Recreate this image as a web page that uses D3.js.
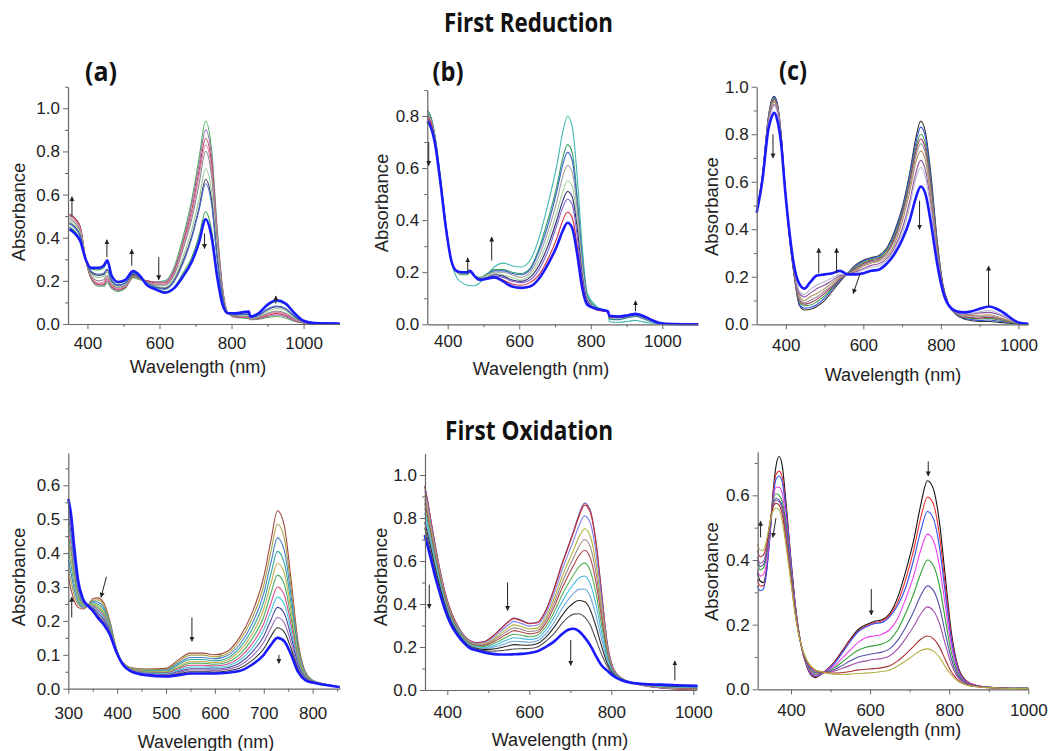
<!DOCTYPE html>
<html><head><meta charset="utf-8">
<script src="https://d3js.org/d3.v7.min.js"></script>
<style>body{margin:0;background:#fff}svg{display:block}</style>
</head><body>
<svg id="chart" width="1051" height="751"></svg>
<script>
// ---------------- DATA ----------------
// Panel (a) First Reduction
const wlA = [350,365,380,395,410,430,445,455,467,485,505,527,545,565,590,615,640,665,690,710,728,745,760,775,790,810,848,852,875,900,925,950,975,1000,1030,1100];
const a0 = [.50,.49,.45,.30,.21,.175,.175,.19,.165,.15,.165,.215,.205,.20,.195,.20,.26,.40,.58,.77,.94,.80,.45,.17,.05,.03,.025,.02,.022,.03,.035,.028,.012,.004,.001,0];
const a1 = [.505,.49,.45,.30,.215,.18,.18,.20,.17,.155,.17,.22,.21,.20,.195,.195,.25,.38,.56,.74,.90,.77,.43,.165,.05,.032,.028,.022,.025,.035,.042,.034,.015,.005,.001,0];
const a2 = [.51,.49,.45,.30,.215,.185,.185,.21,.175,.16,.17,.22,.21,.20,.19,.19,.24,.37,.53,.71,.86,.74,.41,.16,.05,.034,.03,.024,.027,.04,.048,.04,.018,.006,.002,0];
const a3 = [.50,.48,.44,.30,.22,.19,.195,.215,.18,.165,.175,.225,.21,.195,.185,.185,.23,.36,.51,.69,.83,.71,.40,.155,.05,.036,.032,.025,.03,.045,.055,.045,.02,.007,.002,0];
const a4 = [.49,.47,.43,.30,.225,.20,.205,.225,.185,.17,.18,.225,.21,.195,.18,.18,.225,.345,.49,.65,.80,.68,.38,.15,.05,.037,.035,.027,.032,.05,.06,.05,.024,.008,.002,0];
const a5 = [.48,.46,.42,.30,.235,.215,.22,.24,.195,.175,.185,.23,.215,.19,.175,.17,.21,.31,.44,.58,.72,.61,.34,.13,.05,.04,.042,.028,.036,.06,.072,.062,.03,.01,.003,.001];
const a6 = [.47,.45,.41,.30,.24,.225,.23,.25,.20,.18,.19,.23,.215,.19,.17,.165,.20,.29,.41,.54,.67,.57,.31,.125,.05,.042,.046,.03,.04,.067,.08,.07,.035,.011,.003,.001];
const a7 = [.465,.445,.405,.30,.245,.23,.235,.255,.205,.18,.19,.235,.215,.19,.17,.16,.195,.28,.40,.53,.65,.55,.30,.12,.05,.043,.047,.03,.041,.07,.083,.072,.037,.012,.003,.001];
const a8 = [.45,.43,.39,.30,.255,.25,.26,.285,.22,.19,.20,.24,.22,.185,.165,.15,.17,.235,.31,.41,.52,.43,.24,.10,.05,.048,.055,.034,.048,.085,.104,.09,.047,.014,.004,.002];
const a9 = [.44,.42,.385,.30,.26,.26,.27,.295,.225,.195,.205,.245,.225,.18,.16,.145,.165,.22,.29,.38,.485,.40,.22,.09,.05,.05,.058,.035,.05,.09,.11,.095,.05,.015,.004,.002];

// Panel (b) First Reduction
const wlB = [343,352,365,380,395,410,425,440,455,462,475,490,510,530,555,580,605,630,655,680,705,722,735,748,762,776,790,815,848,852,880,905,925,945,965,990,1030,1100];
const b0 = [.82,.80,.72,.56,.38,.24,.18,.16,.15,.148,.148,.16,.19,.22,.235,.225,.22,.245,.33,.46,.61,.74,.80,.76,.57,.30,.12,.07,.045,.01,.008,.012,.015,.01,.005,.002,0,0];
const b1 = [.82,.80,.72,.56,.38,.245,.20,.19,.19,.20,.185,.18,.195,.21,.21,.20,.195,.215,.29,.40,.53,.64,.69,.66,.49,.26,.11,.065,.048,.02,.018,.025,.03,.022,.012,.004,0,0];
const b2 = [.80,.79,.71,.55,.375,.245,.20,.195,.195,.20,.185,.178,.19,.205,.205,.195,.19,.21,.28,.38,.51,.615,.66,.63,.47,.25,.105,.063,.048,.022,.02,.027,.032,.024,.013,.004,0,0];
const b3 = [.81,.79,.71,.55,.375,.245,.20,.195,.195,.20,.185,.177,.19,.20,.20,.19,.18,.20,.26,.355,.47,.57,.61,.585,.44,.23,.10,.062,.048,.024,.022,.029,.034,.026,.014,.004,0,0];
const b4 = [.80,.78,.70,.545,.372,.245,.202,.197,.197,.202,.186,.176,.185,.195,.19,.18,.17,.19,.24,.325,.43,.51,.55,.53,.40,.21,.095,.06,.048,.026,.024,.031,.036,.028,.016,.005,0,0];
const b5 = [.79,.77,.70,.545,.372,.245,.203,.198,.198,.203,.186,.175,.18,.19,.185,.17,.165,.18,.225,.30,.40,.475,.51,.49,.37,.19,.09,.058,.047,.027,.026,.032,.037,.029,.017,.005,0,0];
const b6 = [.79,.77,.695,.54,.37,.245,.204,.199,.199,.204,.186,.173,.178,.185,.18,.165,.16,.17,.21,.28,.38,.45,.48,.46,.34,.18,.085,.057,.047,.028,.027,.033,.038,.03,.018,.005,0,0];
const b7 = [.80,.78,.70,.545,.372,.245,.205,.20,.20,.205,.186,.172,.175,.18,.17,.155,.15,.16,.19,.25,.33,.40,.43,.41,.30,.16,.08,.056,.047,.029,.029,.034,.039,.032,.019,.006,.001,0];
const b8 = [.78,.76,.69,.54,.37,.245,.205,.20,.20,.205,.185,.17,.175,.18,.165,.145,.14,.145,.175,.23,.30,.36,.39,.37,.27,.14,.075,.06,.05,.033,.03,.035,.04,.033,.02,.006,.001,0];

// Panel (c) First Reduction
const wlC = [325,340,355,363,370,378,388,398,410,422,435,448,462,480,500,520,540,560,580,600,620,640,660,680,700,720,735,748,760,775,790,805,820,840,860,880,900,925,950,1000,1025];
const c0 = [.47,.63,.87,.94,.96,.93,.80,.58,.36,.20,.08,.06,.062,.075,.10,.14,.18,.215,.25,.27,.28,.29,.32,.39,.49,.64,.78,.855,.81,.62,.36,.17,.085,.04,.022,.015,.012,.012,.008,.002,0];
const c1 = [.47,.63,.87,.94,.955,.93,.80,.58,.36,.205,.085,.068,.07,.083,.11,.15,.185,.215,.245,.265,.276,.285,.315,.38,.48,.63,.76,.83,.79,.60,.35,.165,.085,.042,.025,.02,.016,.018,.013,.003,0];
const c2 = [.47,.625,.865,.935,.95,.92,.79,.58,.365,.21,.092,.078,.08,.095,.12,.155,.19,.215,.24,.26,.272,.28,.31,.37,.47,.61,.74,.80,.76,.58,.34,.16,.083,.043,.028,.025,.022,.025,.018,.003,0];
const c3 = [.47,.625,.86,.93,.945,.92,.79,.575,.365,.21,.10,.085,.09,.105,.13,.16,.19,.213,.235,.255,.267,.275,.30,.36,.46,.60,.725,.78,.74,.565,.33,.16,.082,.044,.03,.028,.026,.03,.022,.004,0];
const c4 = [.47,.62,.855,.925,.94,.915,.785,.575,.37,.215,.11,.092,.10,.115,.14,.165,.195,.212,.23,.25,.262,.27,.295,.35,.45,.585,.705,.76,.72,.55,.32,.155,.082,.046,.033,.032,.032,.035,.026,.005,0];
const c5 = [.47,.62,.85,.915,.935,.91,.78,.575,.37,.22,.12,.10,.115,.13,.15,.175,.20,.211,.225,.245,.257,.265,.285,.335,.43,.56,.68,.73,.69,.525,.31,.15,.081,.048,.037,.037,.038,.04,.03,.005,.001];
const c6 = [.47,.615,.845,.905,.925,.90,.775,.575,.37,.225,.13,.115,.13,.15,.165,.185,.205,.21,.22,.235,.248,.255,.275,.32,.40,.52,.635,.69,.65,.495,.295,.145,.08,.05,.042,.043,.048,.05,.04,.006,.001];
const c7 = [.47,.615,.84,.895,.92,.89,.77,.572,.372,.23,.14,.125,.145,.165,.18,.195,.21,.21,.215,.23,.24,.245,.27,.31,.38,.50,.61,.66,.62,.475,.285,.145,.08,.052,.045,.047,.053,.058,.045,.007,.001];
const c8 = [.47,.61,.82,.87,.89,.86,.76,.57,.38,.24,.17,.15,.175,.205,.21,.215,.225,.21,.21,.215,.225,.23,.255,.295,.355,.44,.53,.58,.55,.42,.26,.14,.08,.055,.05,.055,.065,.075,.06,.008,.002];

// Panel (d) First Oxidation
const wlD = [300,306,312,320,330,340,350,360,372,385,398,410,430,460,500,525,550,575,600,625,650,675,700,715,728,742,756,770,785,800,830,855];
const ox0 = [.33,.29,.26,.24,.235,.245,.265,.268,.255,.20,.12,.08,.062,.058,.06,.085,.105,.105,.10,.11,.15,.22,.33,.44,.525,.48,.32,.14,.05,.025,.012,.005];
const ox1 = [.355,.314,.277,.249,.238,.245,.261,.262,.248,.196,.119,.079,.061,.056,.057,.08,.099,.099,.094,.103,.14,.204,.305,.407,.485,.444,.296,.13,.047,.024,.012,.005];
const ox2 = [.379,.337,.294,.257,.241,.245,.258,.256,.241,.191,.118,.079,.059,.054,.055,.075,.092,.092,.088,.097,.129,.188,.281,.374,.445,.408,.273,.121,.045,.024,.012,.005];
const ox3 = [.404,.36,.311,.266,.245,.245,.254,.249,.234,.187,.117,.078,.058,.052,.052,.071,.086,.086,.082,.09,.119,.172,.256,.341,.405,.371,.25,.111,.042,.023,.011,.005];
const ox4 = [.425,.381,.326,.273,.247,.245,.25,.244,.228,.183,.116,.078,.057,.051,.05,.066,.08,.08,.077,.084,.11,.158,.235,.312,.37,.34,.229,.103,.04,.022,.011,.005];
const ox5 = [.447,.402,.341,.281,.25,.245,.247,.239,.222,.18,.115,.077,.056,.049,.048,.062,.075,.075,.072,.078,.10,.144,.213,.283,.335,.308,.208,.094,.037,.021,.011,.005];
const ox6 = [.468,.422,.356,.288,.253,.245,.244,.233,.216,.176,.114,.077,.055,.047,.046,.058,.069,.069,.067,.072,.091,.13,.192,.254,.30,.276,.188,.086,.035,.021,.011,.005];
const ox7 = [.486,.44,.369,.294,.255,.245,.241,.229,.211,.173,.113,.077,.054,.046,.044,.054,.064,.064,.063,.067,.083,.118,.174,.229,.27,.249,.17,.079,.033,.02,.011,.005];
const ox8 = [.505,.457,.382,.301,.258,.245,.238,.224,.206,.17,.112,.076,.053,.044,.042,.051,.059,.059,.058,.062,.075,.106,.155,.204,.24,.222,.153,.072,.031,.02,.01,.005];
const ox9 = [.523,.475,.394,.307,.26,.245,.236,.219,.20,.166,.112,.076,.052,.043,.04,.047,.055,.055,.054,.057,.068,.094,.137,.18,.21,.194,.135,.064,.029,.019,.01,.005];
const ox10 = [.542,.492,.407,.314,.263,.245,.233,.215,.195,.163,.111,.075,.051,.041,.038,.044,.05,.05,.049,.052,.06,.082,.118,.155,.18,.167,.118,.057,.027,.019,.01,.005];
const ox11 = [.56,.51,.42,.32,.265,.245,.23,.21,.19,.16,.11,.075,.05,.04,.036,.04,.045,.045,.045,.047,.052,.07,.10,.13,.15,.14,.10,.05,.025,.018,.01,.005];

// Panel (e) First Oxidation
const wlE = [345,352,360,370,382,395,410,425,440,455,470,490,510,530,550,562,580,600,620,640,660,680,695,708,720,735,748,762,776,790,805,825,850,880,920,960,1010];
const e0 = [.95,.88,.79,.68,.56,.45,.36,.30,.255,.23,.22,.225,.25,.285,.32,.335,.325,.31,.315,.37,.47,.59,.67,.74,.81,.87,.84,.70,.46,.22,.10,.055,.035,.02,.01,.005,.002];
const e1 = [.946,.877,.787,.678,.558,.449,.359,.299,.254,.229,.219,.224,.249,.283,.318,.332,.322,.308,.313,.367,.466,.585,.664,.733,.801,.86,.83,.691,.454,.218,.099,.055,.035,.02,.01,.005,.002];
const e2 = [.928,.86,.773,.666,.549,.442,.354,.296,.252,.227,.217,.22,.242,.273,.305,.319,.31,.297,.302,.354,.446,.558,.633,.696,.759,.81,.78,.648,.427,.208,.097,.054,.035,.021,.011,.007,.004];
const e3 = [.906,.84,.755,.651,.539,.435,.348,.291,.248,.223,.213,.215,.234,.262,.29,.303,.295,.284,.289,.337,.423,.527,.595,.653,.707,.75,.719,.595,.394,.195,.093,.053,.035,.022,.013,.008,.005];
const e4 = [.887,.823,.741,.639,.53,.428,.344,.288,.245,.22,.21,.211,.228,.252,.278,.289,.282,.272,.278,.324,.403,.50,.564,.616,.664,.70,.669,.552,.366,.185,.09,.052,.034,.022,.014,.01,.007];
const e5 = [.869,.806,.727,.627,.521,.422,.339,.284,.243,.218,.208,.207,.221,.243,.265,.276,.27,.261,.267,.31,.384,.474,.533,.58,.622,.65,.618,.508,.339,.174,.088,.051,.034,.023,.015,.011,.008];
const e6 = [.847,.786,.709,.613,.511,.414,.333,.28,.239,.214,.204,.203,.213,.231,.251,.259,.255,.248,.255,.294,.36,.442,.495,.536,.57,.59,.558,.456,.305,.162,.084,.051,.034,.024,.017,.013,.01];
const e7 = [.825,.766,.692,.598,.50,.406,.327,.276,.236,.211,.201,.198,.205,.22,.236,.243,.24,.235,.242,.278,.337,.41,.458,.492,.519,.53,.497,.404,.272,.149,.081,.05,.034,.024,.018,.014,.012];
const e8 = [.803,.746,.675,.584,.49,.399,.322,.271,.233,.208,.198,.193,.198,.208,.221,.227,.225,.222,.229,.261,.313,.379,.42,.449,.468,.47,.437,.351,.239,.137,.078,.049,.034,.025,.02,.016,.014];
const e9 = [.781,.725,.658,.57,.479,.391,.316,.267,.229,.204,.194,.188,.19,.197,.206,.211,.209,.208,.216,.245,.29,.347,.383,.405,.416,.41,.376,.299,.206,.124,.074,.048,.034,.026,.021,.018,.015];
const e10 = [.755,.702,.637,.553,.467,.382,.309,.262,.225,.20,.19,.183,.18,.183,.188,.191,.192,.193,.20,.226,.262,.31,.339,.353,.355,.339,.305,.237,.167,.11,.07,.047,.033,.027,.023,.019,.017];
const e11 = [.72,.67,.61,.53,.45,.37,.30,.255,.22,.195,.185,.175,.168,.165,.165,.166,.168,.172,.18,.20,.225,.26,.28,.285,.275,.245,.21,.16,.115,.09,.065,.045,.033,.028,.025,.022,.02];

// Panel (f) First Oxidation
const wlF = [315,322,330,338,346,354,362,370,378,388,400,412,425,440,452,462,475,490,510,530,550,570,590,610,630,650,670,690,710,728,745,760,775,790,805,820,840,870,920,1000];
const f0 = [.36,.335,.33,.37,.47,.60,.69,.72,.69,.57,.40,.25,.14,.07,.042,.036,.045,.06,.085,.12,.155,.185,.20,.21,.215,.235,.285,.365,.46,.57,.645,.62,.52,.35,.18,.08,.03,.012,.005,.003];
const f1 = [.34,.32,.32,.365,.465,.59,.665,.675,.655,.555,.395,.248,.14,.072,.045,.04,.047,.06,.083,.117,.152,.181,.196,.206,.211,.23,.27,.34,.43,.53,.595,.573,.48,.323,.167,.075,.029,.012,.005,.003];
const f2 = [.32,.305,.31,.36,.46,.58,.65,.66,.64,.545,.39,.245,.14,.074,.047,.041,.047,.058,.08,.113,.148,.178,.193,.203,.207,.225,.26,.315,.40,.49,.55,.528,.443,.299,.155,.07,.027,.011,.005,.003];
const f3 = [.37,.35,.355,.39,.48,.58,.625,.625,.605,.52,.375,.24,.14,.076,.051,.044,.048,.057,.073,.097,.122,.145,.16,.165,.17,.185,.22,.28,.35,.43,.48,.46,.385,.26,.137,.063,.025,.011,.005,.003];
const f4 = [.39,.37,.375,.41,.49,.575,.605,.60,.58,.505,.367,.236,.14,.079,.055,.047,.05,.055,.067,.085,.104,.121,.13,.135,.14,.153,.185,.235,.295,.358,.40,.383,.322,.218,.116,.055,.023,.01,.005,.003];
const f5 = [.40,.38,.385,.42,.495,.57,.59,.585,.565,.49,.357,.231,.14,.083,.06,.051,.051,.054,.061,.074,.088,.10,.106,.111,.115,.126,.152,.192,.24,.29,.32,.306,.258,.175,.096,.047,.021,.01,.004,.002];
const f6 = [.41,.39,.395,.43,.50,.565,.585,.58,.555,.475,.35,.228,.14,.085,.063,.054,.053,.053,.057,.065,.074,.083,.088,.092,.095,.104,.125,.157,.194,.233,.255,.243,.205,.14,.079,.04,.019,.009,.004,.002];
const f7 = [.43,.41,.415,.445,.51,.56,.575,.57,.54,.455,.336,.222,.14,.088,.068,.058,.054,.051,.05,.052,.055,.06,.062,.064,.067,.073,.088,.109,.133,.155,.165,.157,.132,.092,.055,.031,.016,.008,.004,.002];
const f8 = [.45,.43,.43,.46,.51,.55,.56,.555,.52,.44,.33,.22,.14,.09,.07,.06,.055,.05,.047,.046,.047,.049,.05,.052,.055,.06,.072,.088,.105,.12,.125,.118,.10,.07,.045,.027,.015,.008,.004,.002];

// Arrows: [x1, y1, x2, y2] in data units
const arrowsA = [[357,.50,357,.59],[454,.31,454,.39],[523,.27,523,.345],[598,.31,598,.205],[725,.42,725,.35],[923,.095,923,.13]];
const arrowsB = [[347,.70,347,.61],[456,.20,456,.255],[523,.245,523,.335],[925,.05,925,.09]];
const arrowsC = [[367,.80,367,.70],[485,.215,485,.32],[531,.215,531,.32],[592,.215,574,.13],[745,.52,745,.40],[923,.075,923,.245]];
const arrowsD = [[307,.21,307,.27],[378,.33,367,.27],[553,.21,553,.14],[731,.10,731,.075]];
const arrowsE = [[356,.49,356,.38],[547,.50,547,.37],[701,.233,701,.115],[955,.045,955,.135]];
const arrowsF = [[323,.47,323,.52],[362,.53,354,.47],[603,.31,603,.23],[747,.705,747,.66]];

// Tick values
const ticksX4 = [400,600,800,1000];
const minorX4 = [500,700,900];
const ticksXD = [300,400,500,600,700,800];
const minorXD = [350,450,550,650,750,850];
const ticksY10 = [0,.2,.4,.6,.8,1.0];
const minorY11 = [.1,.3,.5,.7,.9,1.1];
const ticksY08 = [0,.2,.4,.6,.8];
const minorY09 = [.1,.3,.5,.7,.9];
const minorY10 = [.1,.3,.5,.7,.9];
const ticksYD = [0,.1,.2,.3,.4,.5,.6];
const minorYD = [.05,.15,.25,.35,.45,.55,.65];
const ticksYF = [0,.2,.4,.6];
const minorYF = [.1,.3,.5,.7];

// ---------------- STYLE / LAYOUT ----------------
const BLUE = '#1a1aff';
const panels = [
  {w: wlA, s:[a0,a1,a2,a3,a4,a5,a6,a7,a8,a9],
   col:['#4caf50','#a070c0','#c04050','#e080b0','#8a8a8a','#9cc89c','#3a3a5a','#4a6ad0','#2e9a4e',BLUE],
   xd:[346,1100], xr:[68,339.6], yd:[0,1.1], yr:[324,86.7],
   xt:ticksX4, xm:minorX4, yt:ticksY10, ym:minorY11, xpad:8,
   xl:[198,373], yl:[18,212], ar:arrowsA, tag:'(a)', tp:[101,81], tw:32},
  {w: wlB, s:[b0,b1,b2,b3,b4,b5,b6,b7,b8],
   col:['#40b8b0','#30a060','#3a5fd0','#a0a0a0','#a8d0a0','#2a2a70','#8060d0','#d03040',BLUE],
   xd:[343,1100], xr:[427.3,698.1], yd:[0,0.9], yr:[324.3,89.9],
   xt:ticksX4, xm:minorX4, yt:ticksY08, ym:minorY09, xpad:6,
   xl:[541,375], yl:[381.7,203], ar:arrowsB, tag:'(b)', tp:[448,81], tw:31},
  {w: wlC, s:[c0,c1,c2,c3,c4,c5,c6,c7,c8],
   col:['#333333','#3050e0','#40a040','#a03060','#909090','#b09060','#9050a0','#b8b8d0',BLUE],
   xd:[325,1026], xr:[756.7,1028.5], yd:[0,1.0], yr:[324.3,86.7],
   xt:ticksX4, xm:minorX4, yt:ticksY10, ym:minorY10, xpad:10,
   xl:[893,381], yl:[711.7,206.7], ar:arrowsC, tag:'(c)', tp:[793,80], tw:28},
  {w: wlD, s:[ox0,ox1,ox2,ox3,ox4,ox5,ox6,ox7,ox8,ox9,ox10,ox11],
   col:['#a04840','#a8a040','#4a80c8','#30a8a0','#c8b050','#48b060','#d84888','#48c8d8','#4848a0','#9868b8','#333333',BLUE],
   xd:[300,856], xr:[68.3,340], yd:[0,0.695], yr:[688.7,453.1],
   xt:ticksXD, xm:minorXD, yt:ticksYD, ym:minorYD, xpad:13,
   xl:[206,748], yl:[18,577], ar:arrowsD},
  {w: wlE, s:[e0,e1,e2,e3,e4,e5,e6,e7,e8,e9,e10,e11],
   col:['#5a4aa8','#c83030','#8080e8','#b0b040','#a08888','#b04848','#58b058','#40b8e0','#70a8d8','#282828','#505050',BLUE],
   xd:[345.6,1008], xr:[425,696.6], yd:[0,1.1], yr:[690,453.5],
   xt:ticksX4, xm:minorX4, yt:ticksY10, ym:minorY10, xpad:11,
   xl:[560,746], yl:[380,577], ar:arrowsE},
  {w: wlF, s:[f0,f1,f2,f3,f4,f5,f6,f7,f8],
   col:['#111111','#f03030','#3050f0','#f040f0','#30a030','#5050a8','#a050a8','#a83030','#b0b040'],
   thin:true,
   xd:[315.8,1000], xr:[757.7,1028.3], yd:[0,0.735], yr:[689.3,451.7],
   xt:ticksX4, xm:minorX4, yt:ticksYF, ym:minorYF, xpad:10,
   xl:[893,736], yl:[711.7,571.7], ar:arrowsF}
];

const svg = d3.select('#chart');
svg.append('rect').attr('width',1051).attr('height',751).attr('fill','#fff');
svg.append('defs').append('marker')
  .attr('id','ah').attr('viewBox','0 0 10 10').attr('refX',9).attr('refY',5)
  .attr('markerWidth',5).attr('markerHeight',6).attr('orient','auto')
  .append('path').attr('d','M0,0L10,5L0,10z').attr('fill','#222');

const TICKFONT = "'Liberation Sans', Arial, sans-serif";
const TITLEFONT = "'Open Sans', 'DejaVu Sans', sans-serif";

function styleAxis(g){
  g.selectAll('path.domain').attr('stroke','#666').attr('stroke-width',1.2);
  g.selectAll('.tick line').attr('stroke','#666');
  g.selectAll('.tick text').attr('fill','#222').style('font-family',TICKFONT).style('font-size','17px');
}

panels.forEach(p => {
  const x = d3.scaleLinear().domain(p.xd).range(p.xr);
  const y = d3.scaleLinear().domain(p.yd).range(p.yr);
  const g = svg.append('g');

  g.append('g').attr('transform',`translate(0,${p.yr[0]})`)
    .call(d3.axisBottom(x).tickValues(p.xm).tickSize(3).tickSizeOuter(0).tickFormat(''))
    .call(a => { a.select('.domain').remove(); a.selectAll('.tick line').attr('stroke','#666'); });
  g.append('g').attr('transform',`translate(${p.xr[0]},0)`)
    .call(d3.axisLeft(y).tickValues(p.ym.filter(v => v <= p.yd[1])).tickSize(3).tickSizeOuter(0).tickFormat(''))
    .call(a => { a.select('.domain').remove(); a.selectAll('.tick line').attr('stroke','#666'); });

  const line = d3.line().x((d,i) => x(p.w[i])).y(d => y(d)).curve(d3.curveMonotoneX);
  p.s.forEach((vals, k) => {
    const last = !p.thin && k === p.s.length - 1;
    g.append('path').datum(vals).attr('d', line)
      .attr('fill','none').attr('stroke', p.col[k])
      .attr('stroke-width', last ? 2.6 : 1.1)
      .attr('stroke-linejoin','round');
  });

  g.append('g').attr('transform',`translate(0,${p.yr[0]})`)
    .call(d3.axisBottom(x).tickValues(p.xt).tickSize(5).tickSizeOuter(0).tickPadding(p.xpad).tickFormat(d3.format('d')))
    .call(styleAxis);
  g.append('g').attr('transform',`translate(${p.xr[0]},0)`)
    .call(d3.axisLeft(y).tickValues(p.yt).tickSize(5).tickSizeOuter(0).tickPadding(3).tickFormat(d3.format('.1f')))
    .call(styleAxis);

  p.ar.forEach(a => {
    g.append('line').attr('x1',x(a[0])).attr('y1',y(a[1])).attr('x2',x(a[2])).attr('y2',y(a[3]))
      .attr('stroke','#222').attr('stroke-width',1).attr('marker-end','url(#ah)');
  });

  g.append('text').attr('x',p.xl[0]).attr('y',p.xl[1]).attr('text-anchor','middle')
    .style('font-family',TICKFONT).style('font-size','18px').attr('fill','#222').text('Wavelength (nm)');
  g.append('text').attr('transform',`translate(${p.yl[0]},${p.yl[1]}) rotate(-90)`).attr('dy','0.36em')
    .attr('text-anchor','middle').style('font-family',TICKFONT).style('font-size','18.5px').attr('fill','#222').text('Absorbance');

  if (p.tag) {
    g.append('text').attr('x',p.tp[0] - p.tw/2).attr('y',p.tp[1])
      .attr('textLength', p.tw).attr('lengthAdjust','spacingAndGlyphs')
      .style('font-family',TITLEFONT).style('font-weight','bold').style('font-size','27px').attr('fill','#111').text(p.tag);
  }
});

svg.append('text').attr('x',444).attr('y',32).attr('textLength',169).attr('lengthAdjust','spacingAndGlyphs')
  .style('font-family',TITLEFONT).style('font-weight','bold').style('font-size','27px').attr('fill','#111').text('First Reduction');
svg.append('text').attr('x',445).attr('y',440).attr('textLength',168).attr('lengthAdjust','spacingAndGlyphs')
  .style('font-family',TITLEFONT).style('font-weight','bold').style('font-size','27px').attr('fill','#111').text('First Oxidation');
</script>
</body></html>
